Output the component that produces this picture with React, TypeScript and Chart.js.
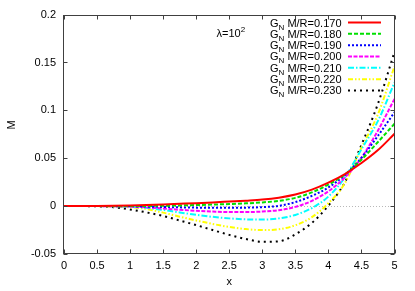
import React, { useEffect, useRef } from "react";
import { Chart, registerables } from "chart.js";

Chart.register(...registerables);

// ---- data ----
const xValues = [0, 0.25, 0.5, 0.75, 1, 1.25, 1.5, 1.75, 2, 2.25, 2.5, 2.75, 3, 3.25, 3.5, 3.75, 4, 4.25, 4.5, 4.75, 5];

const ratioLabels = ["0.170", "0.180", "0.190", "0.200", "0.210", "0.220", "0.230"];

const m170 = [0, 0, 0.0001, 0.0003, 0.0006, 0.0011, 0.0017, 0.0024, 0.0031, 0.0039, 0.0048, 0.0057, 0.0068, 0.0088, 0.0121, 0.0172, 0.0245, 0.0335, 0.045, 0.0585, 0.0755];
const m180 = [0, 0, 0, 0.0001, 0.0001, 0.0002, 0.0004, 0.0007, 0.0011, 0.0016, 0.0022, 0.0029, 0.0039, 0.0055, 0.0086, 0.0143, 0.0225, 0.033, 0.0485, 0.067, 0.086];
const m190 = [0, 0, 0, 0, -0.0002, -0.0005, -0.0009, -0.0013, -0.0016, -0.0018, -0.0018, -0.0016, -0.0011, 0.0003, 0.0042, 0.0107, 0.0195, 0.0325, 0.0505, 0.0735, 0.098];
const m200 = [0, 0, 0, -0.0001, -0.0004, -0.0012, -0.0025, -0.0038, -0.0049, -0.0057, -0.0062, -0.0062, -0.0057, -0.0042, -0.0008, 0.0055, 0.0155, 0.03, 0.0505, 0.079, 0.112];
const m210 = [0, 0, 0, -0.0002, -0.0006, -0.0018, -0.004, -0.0066, -0.009, -0.0112, -0.0128, -0.0138, -0.014, -0.0128, -0.0092, -0.002, 0.01, 0.03, 0.0595, 0.089, 0.129];
const m220 = [0, 0, 0, -0.0005, -0.0012, -0.003, -0.0068, -0.011, -0.015, -0.0186, -0.0218, -0.024, -0.025, -0.0242, -0.02, -0.0115, 0.003, 0.024, 0.061, 0.096, 0.146];
const m230 = [0, 0, -0.0002, -0.0012, -0.0035, -0.0066, -0.0103, -0.015, -0.0198, -0.025, -0.03, -0.0343, -0.0372, -0.0368, -0.0295, -0.0175, 0.0005, 0.025, 0.064, 0.107, 0.161];

const seriesValues = [m170, m180, m190, m200, m210, m220, m230];

const xTicks = [0, 0.5, 1, 1.5, 2, 2.5, 3, 3.5, 4, 4.5, 5];
const yTicks = [-0.05, 0, 0.05, 0.1, 0.15, 0.2];
const xTickLabels = ["0", "0.5", "1", "1.5", "2", "2.5", "3", "3.5", "4", "4.5", "5"];
const yTickLabels = ["-0.05", "0", "0.05", "0.1", "0.15", "0.2"];

// ---- styles ----
const colors = ["#ff0000", "#00e000", "#0000ff", "#ff00ff", "#00ffff", "#ffff00", "#000000"];
const dashes: number[][] = [[], [4, 2], [2, 2], [4, 1.5], [6, 2, 1.5, 2], [5, 2, 1.5, 2, 1.5, 2], [2, 4]];

const FONT = '"Liberation Sans", Arial, Helvetica, sans-serif';

const decorPlugin = {
  id: "decor",
  beforeDatasetsDraw(chart: any) {
    const { ctx, chartArea: a, scales } = chart;
    const y0 = Math.round(scales.y.getPixelForValue(0)) + 0.5;
    ctx.save();
    ctx.strokeStyle = "#b8b8b8";
    ctx.lineWidth = 1;
    ctx.setLineDash([1, 2]);
    ctx.beginPath();
    ctx.moveTo(a.left, y0);
    ctx.lineTo(a.right, y0);
    ctx.stroke();
    ctx.restore();
  },
  afterDatasetsDraw(chart: any) {
    const { ctx, chartArea: a, scales } = chart;
    const xs = scales.x;
    const ys = scales.y;
    ctx.save();
    // frame
    ctx.strokeStyle = "#404040";
    ctx.lineWidth = 1;
    ctx.setLineDash([]);
    const L = Math.round(a.left) - 0.5;
    const R = Math.round(a.right) - 0.5;
    const T = Math.round(a.top) + 0.5;
    const B = Math.round(a.bottom) - 0.5;
    ctx.strokeRect(L, T, R - L, B - T);
    const tl = 4;
    ctx.beginPath();
    xTicks.forEach((v) => {
      const px = Math.round(xs.getPixelForValue(v)) + 0.5;
      ctx.moveTo(px, B);
      ctx.lineTo(px, B - tl);
      ctx.moveTo(px, T);
      ctx.lineTo(px, T + tl);
    });
    yTicks.forEach((v) => {
      const py = Math.round(ys.getPixelForValue(v)) + 0.5;
      ctx.moveTo(L, py);
      ctx.lineTo(L + tl, py);
      ctx.moveTo(R, py);
      ctx.lineTo(R - tl, py);
    });
    ctx.stroke();

    // legend
    const legendRight = 341.5;
    const rowY0 = 22.5;
    const rowDy = 11.33;
    ctx.fillStyle = "#000";
    ctx.textBaseline = "alphabetic";
    ctx.textAlign = "left";
    ratioLabels.forEach((lab, i) => {
      const yy = rowY0 + i * rowDy;
      const rest = " M/R=" + lab;
      ctx.font = "11px " + FONT;
      const wG = ctx.measureText("G").width;
      const wRest = ctx.measureText(rest).width;
      ctx.font = "8px " + FONT;
      const wN = ctx.measureText("N").width;
      const x0 = legendRight - (wG + wN + wRest);
      const base = yy + 4;
      ctx.font = "11px " + FONT;
      ctx.fillText("G", x0, base);
      ctx.font = "8px " + FONT;
      ctx.fillText("N", x0 + wG, base + 3);
      ctx.font = "11px " + FONT;
      ctx.fillText(rest, x0 + wG + wN, base);
      ctx.strokeStyle = colors[i];
      ctx.lineWidth = 2;
      ctx.setLineDash(dashes[i]);
      ctx.beginPath();
      ctx.moveTo(348, yy);
      ctx.lineTo(381, yy);
      ctx.stroke();
    });
    ctx.setLineDash([]);

    // lambda label
    ctx.font = "11px " + FONT;
    const lt = "\u03bb=10";
    ctx.fillText(lt, 216.5, 37);
    const wl = ctx.measureText(lt).width;
    ctx.font = "8px " + FONT;
    ctx.fillText("2", 216.5 + wl, 32);

    // y title
    ctx.font = "11px " + FONT;
    ctx.translate(12, 125);
    ctx.rotate(-Math.PI / 2);
    ctx.textAlign = "center";
    ctx.textBaseline = "middle";
    ctx.fillText("M", 0, 0);
    ctx.restore();
  },
};

export default function App() {
  const ref = useRef<HTMLCanvasElement | null>(null);

  useEffect(() => {
    document.body.style.margin = "0";
    const canvas = ref.current;
    if (!canvas) return;
    Chart.defaults.font.family = FONT;
    const chart = new Chart(canvas, {
      type: "line",
      data: {
        datasets: seriesValues.map((vals, i) => ({
          label: "G_N M/R=" + ratioLabels[i],
          data: xValues.map((x, j) => ({ x, y: vals[j] })),
          borderColor: colors[i],
          borderWidth: 2,
          borderDash: dashes[i],
          pointRadius: 0,
          fill: false,
          cubicInterpolationMode: "monotone" as const,
        })),
      },
      options: {
        responsive: false,
        animation: false,
        devicePixelRatio: 1,
        layout: { padding: { top: 14, right: 20.5, left: 0, bottom: 0 } },
        plugins: { legend: { display: false }, tooltip: { enabled: false } },
        scales: {
          x: {
            type: "linear",
            min: 0,
            max: 5,
            grid: { display: false, drawTicks: false },
            border: { display: false },
            afterBuildTicks: (s: any) => {
              s.ticks = xTicks.map((v) => ({ value: v }));
            },
            afterFit: (s: any) => {
              s.height = 37;
            },
            ticks: {
              padding: 5,
              color: "#000",
              font: { size: 11, family: FONT },
              maxRotation: 0,
              autoSkip: false,
              callback: (v: any) => {
                const k = xTicks.indexOf(Number(v));
                return k >= 0 ? xTickLabels[k] : "";
              },
            },
            title: {
              display: true,
              text: "x",
              color: "#000",
              font: { size: 11, family: FONT },
              padding: { top: 0, bottom: 2 },
            },
          },
          y: {
            type: "linear",
            min: -0.05,
            max: 0.2,
            grid: { display: false, drawTicks: false },
            border: { display: false },
            afterBuildTicks: (s: any) => {
              s.ticks = yTicks.map((v) => ({ value: v }));
            },
            afterFit: (s: any) => {
              s.width = 64;
            },
            ticks: {
              padding: 8,
              color: "#000",
              font: { size: 11, family: FONT },
              autoSkip: false,
              callback: (v: any) => {
                const k = yTicks.findIndex((t) => Math.abs(t - Number(v)) < 1e-9);
                return k >= 0 ? yTickLabels[k] : "";
              },
            },
          },
        },
      },
      plugins: [decorPlugin],
    });
    return () => chart.destroy();
  }, []);

  return <canvas ref={ref} width={415} height={291} style={{ display: "block" }} />;
}
